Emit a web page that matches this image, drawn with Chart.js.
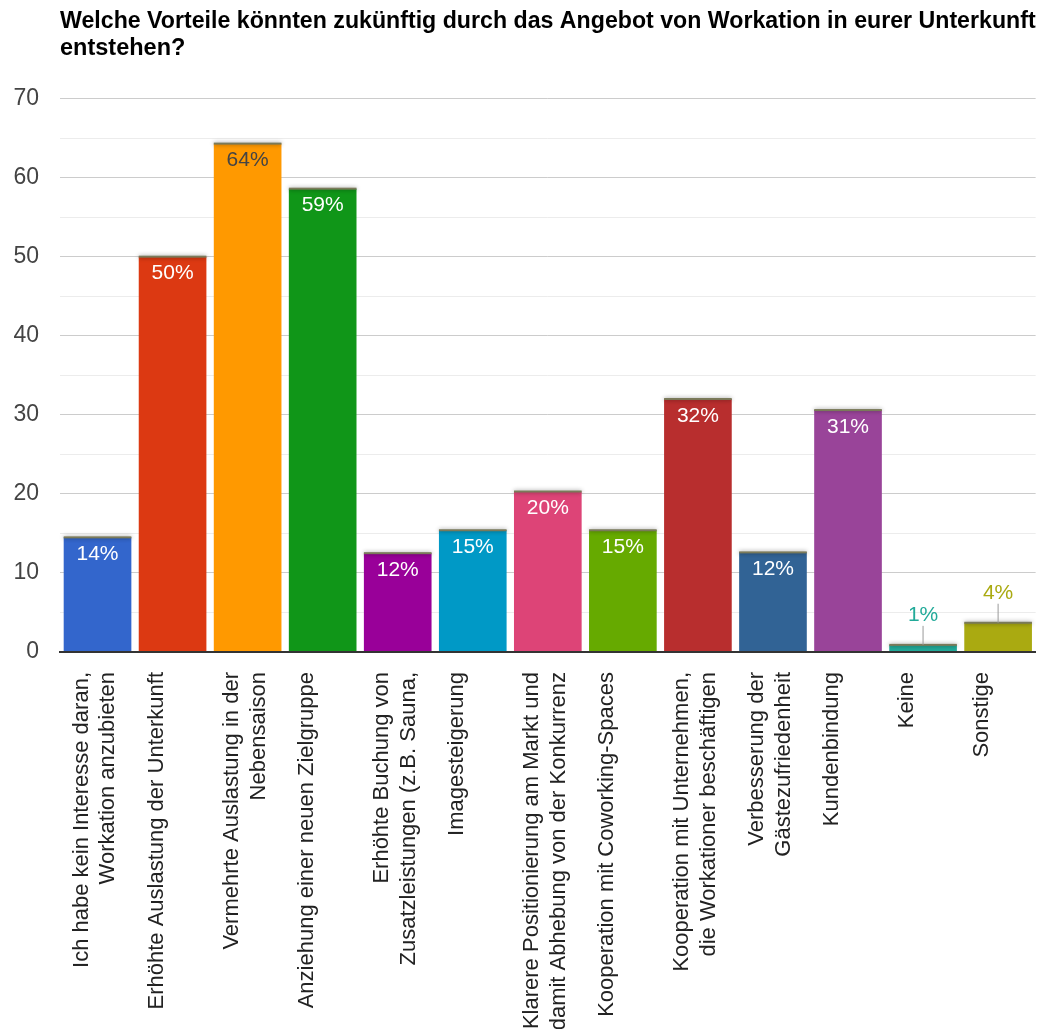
<!DOCTYPE html>
<html>
<head>
<meta charset="utf-8">
<script src="https://cdn.jsdelivr.net/npm/chart.js@4.4.0/dist/chart.umd.min.js"></script>
<style>
  html, body { margin: 0; padding: 0; background: #fff; }
  #wrap { width: 1037px; height: 1029px; position: relative; }
</style>
</head>
<body>
<div id="wrap"><canvas id="chart"></canvas></div>
<script>
// survey answers (multi-line labels)
const categories = [
    ['Ich habe kein Interesse daran,', 'Workation anzubieten'],
    'Erhöhte Auslastung der Unterkunft',
    ['Vermehrte Auslastung in der', 'Nebensaison'],
    'Anziehung einer neuen Zielgruppe',
    ['Erhöhte Buchung von', 'Zusatzleistungen (z.B. Sauna,'],
    'Imagesteigerung',
    ['Klarere Positionierung am Markt und', 'damit Abhebung von der Konkurrenz'],
    'Kooperation mit Coworking-Spaces',
    ['Kooperation mit Unternehmen,', 'die Workationer beschäftigen'],
    ['Verbesserung der', 'Gästezufriedenheit'],
    'Kundenbindung',
    'Keine',
    'Sonstige'
];
const values = [14.5, 50, 64.3, 58.6, 12.5, 15.4, 20.3, 15.4, 32, 12.6, 30.6, 0.9, 3.7];
const percentLabels = ['14%', '50%', '64%', '59%', '12%', '15%', '20%', '15%', '32%', '12%', '31%', '1%', '4%'];
const barColors = ['#3366cc', '#dc3912', '#ff9900', '#109618', '#990099', '#0099c6', '#dd4477',
                   '#66aa00', '#b82e2e', '#316395', '#994499', '#22aa99', '#aaaa11'];
const yTicks = [0, 10, 20, 30, 40, 50, 60, 70];

const FONT = 'Arial, "Liberation Sans", sans-serif';

// value labels + shaded bar tops, drawn like the original export
const barLabels = {
    id: 'barLabels',
    afterDatasetsDraw(chart) {
        const ctx = chart.ctx;
        const meta = chart.getDatasetMeta(0);
        ctx.save();
        ctx.font = '21px ' + FONT;
        ctx.textAlign = 'center';
        ctx.textBaseline = 'middle';
        meta.data.forEach((bar, i) => {
            const half = bar.width / 2;
            // soft shadow on top edge
            ctx.save();
            ctx.shadowColor = 'rgba(0,0,0,0.45)';
            ctx.shadowBlur = 4;
            ctx.fillStyle = '#7a7a5a';
            ctx.fillRect(bar.x - half, bar.y - 1, bar.width, 2);
            ctx.restore();

            if (values[i] < 6) {
                ctx.strokeStyle = '#999';
                ctx.lineWidth = 1;
                ctx.beginPath();
                ctx.moveTo(bar.x, bar.y);
                ctx.lineTo(bar.x, bar.y - 19);
                ctx.stroke();
                ctx.fillStyle = barColors[i];
                ctx.fillText(percentLabels[i], bar.x, bar.y - 30);
            } else {
                ctx.fillStyle = barColors[i] === '#ff9900' ? '#444' : '#fff';
                ctx.fillText(percentLabels[i], bar.x, bar.y + 17);
            }
        });
        ctx.restore();
    }
};

new Chart(document.getElementById('chart'), {
    type: 'bar',
    data: {
        labels: categories,
        datasets: [{
            data: values,
            backgroundColor: barColors,
            borderWidth: 0,
            barPercentage: 0.92,
            categoryPercentage: 0.98
        }]
    },
    options: {
        responsive: true,
        maintainAspectRatio: false,
        animation: false,
        layout: { autoPadding: false, padding: { left: 12, right: 0, top: 8, bottom: 0 } },
        plugins: {
            legend: { display: false },
            tooltip: { enabled: false },
            title: {
                display: true,
                fullSize: false,
                align: 'start',
                text: ['Welche Vorteile könnten zukünftig durch das Angebot von Workation in eurer Unterkunft', 'entstehen?'],
                color: '#000',
                font: { family: FONT, size: 23.5, weight: 'bold', lineHeight: 1.16 },
                padding: { top: 0, bottom: 36 }
            }
        },
        scales: {
            y: {
                min: 0,
                max: 70,
                ticks: {
                    stepSize: 5,
                    color: '#444',
                    padding: 21,
                    font: { family: FONT, size: 23 },
                    callback: v => yTicks.includes(v) ? v : ''
                },
                grid: {
                    drawTicks: false,
                    color: c => c.tick.value === 0 ? '#333' : (c.tick.value % 10 === 0 ? '#cccccc' : '#ececec'),
                    lineWidth: c => c.tick.value === 0 ? 2 : 1
                },
                border: { display: false },
                afterFit(scale) { scale.width = 48; }
            },
            x: {
                ticks: {
                    minRotation: 90,
                    maxRotation: 90,
                    autoSkip: false,
                    color: '#222',
                    padding: 12,
                    labelOffset: -16,
                    font: { family: FONT, size: 22, lineHeight: 1.22 }
                },
                grid: { display: false },
                border: { color: '#333', width: 2 },
                afterFit(scale) { scale.height = 377; }
            }
        }
    },
    plugins: [barLabels]
});
</script>
</body>
</html>
